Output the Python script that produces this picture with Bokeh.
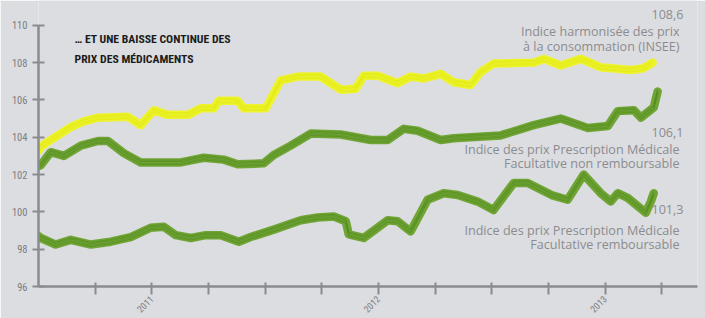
import math
from bokeh.plotting import figure
from bokeh.models import ColumnDataSource, FixedTicker, Label, Range1d
from bokeh.transform import dodge
from bokeh.embed import file_html
from bokeh.resources import INLINE

# ---- data (decimal years, index values) ----
ipch_t = [2010.501, 2010.510, 2010.554, 2010.642, 2010.700, 2010.762, 2010.894, 2010.951,
          2011.009, 2011.070, 2011.159, 2011.216, 2011.273, 2011.295, 2011.379, 2011.405,
          2011.503, 2011.569, 2011.644, 2011.745, 2011.834, 2011.900, 2011.935, 2011.997,
          2012.085, 2012.142, 2012.199, 2012.275, 2012.332, 2012.407, 2012.451, 2012.508,
          2012.685, 2012.730, 2012.804, 2012.893, 2012.981, 2013.113, 2013.170, 2013.210]
ipch_v = [103.3, 103.5, 103.85, 104.55, 104.85, 105.05, 105.1, 104.65,
          105.45, 105.2, 105.2, 105.55, 105.55, 105.95, 105.95, 105.55,
          105.55, 107.05, 107.25, 107.25, 106.55, 106.6, 107.3, 107.3,
          106.9, 107.25, 107.15, 107.4, 106.95, 106.8, 107.5, 107.95,
          108.0, 108.2, 107.85, 108.2, 107.75, 107.6, 107.7, 108.0]

pmf_nr_t = [2010.501, 2010.510, 2010.554, 2010.612, 2010.687, 2010.762, 2010.806, 2010.876,
            2010.951, 2011.128, 2011.229, 2011.317, 2011.379, 2011.494, 2011.538, 2011.613,
            2011.701, 2011.834, 2011.966, 2012.041, 2012.112, 2012.173, 2012.275, 2012.332,
            2012.407, 2012.539, 2012.685, 2012.804, 2012.924, 2013.012, 2013.056, 2013.127,
            2013.158, 2013.189, 2013.215, 2013.232]
pmf_nr_v = [102.45, 102.5, 103.2, 103.0, 103.55, 103.8, 103.8, 103.15,
            102.65, 102.65, 102.9, 102.8, 102.55, 102.6, 103.05, 103.55,
            104.2, 104.15, 103.85, 103.85, 104.45, 104.35, 103.85, 103.95,
            104.0, 104.1, 104.65, 105.0, 104.5, 104.6, 105.4, 105.45,
            105.05, 105.35, 105.6, 106.45]

pmf_r_t = [2010.501, 2010.510, 2010.576, 2010.642, 2010.731, 2010.819, 2010.907, 2010.995,
           2011.053, 2011.106, 2011.172, 2011.238, 2011.304, 2011.384, 2011.436, 2011.538,
           2011.657, 2011.732, 2011.803, 2011.856, 2011.869, 2011.935, 2012.041, 2012.085,
           2012.142, 2012.217, 2012.288, 2012.350, 2012.438, 2012.508, 2012.597, 2012.659,
           2012.764, 2012.835, 2012.906, 2012.981, 2013.025, 2013.056, 2013.100, 2013.180,
           2013.202, 2013.215]
pmf_r_v = [98.7, 98.6, 98.25, 98.5, 98.25, 98.4, 98.65, 99.15,
           99.2, 98.75, 98.6, 98.75, 98.75, 98.4, 98.65, 99.05,
           99.55, 99.7, 99.75, 99.5, 98.8, 98.6, 99.55, 99.5,
           98.95, 100.65, 101.0, 100.9, 100.55, 100.1, 101.55, 101.55,
           100.9, 100.65, 102.0, 101.0, 100.55, 101.0, 100.75, 99.95,
           100.55, 101.0]

y_ticks = [96, 98, 100, 102, 104, 106, 108, 110]
x_ticks = [2010.75, 2011.0, 2011.25, 2011.5, 2011.75, 2012.0, 2012.25, 2012.5, 2012.75, 2013.0, 2013.25]
year_labels = {2011.0: "2011", 2012.0: "2012", 2013.0: "2013"}

BG = "#dcdde0"
GREY = "#8a8b8e"
COND = "'Roboto Condensed', 'DejaVu Sans Condensed', 'Liberation Sans Narrow', Roboto, sans-serif"

p = figure(width=705, height=318, output_backend="svg", toolbar_location=None,
           x_range=Range1d(2010.5, 2013.408), y_range=Range1d(96, 111.33),
           min_border_left=38, min_border_right=8, min_border_top=0, min_border_bottom=31)
p.background_fill_color = BG
p.border_fill_color = BG
p.outline_line_color = None
p.grid.visible = False

# axes
for ax in (p.xaxis[0], p.yaxis[0]):
    ax.axis_line_color = GREY
    ax.axis_line_width = 2.5
    ax.major_tick_line_color = GREY
    ax.major_tick_line_width = 2
    ax.minor_tick_line_color = None
p.yaxis.ticker = FixedTicker(ticks=y_ticks)
p.yaxis.bounds = (96, 110)
p.yaxis.major_tick_in = 6
p.yaxis.major_tick_out = 6
p.yaxis.major_label_text_font = COND
p.yaxis.major_label_text_font_size = "10.5px"
p.yaxis.major_label_text_color = "#7d7e80"
p.yaxis.major_label_standoff = 5
p.xaxis.ticker = FixedTicker(ticks=x_ticks)
p.xaxis.major_tick_in = 4
p.xaxis.major_tick_out = 8
p.xaxis.major_label_overrides = {t: year_labels.get(t, "") for t in x_ticks}
p.xaxis.major_label_orientation = math.pi / 4
p.xaxis.major_label_text_font = COND
p.xaxis.major_label_text_font_size = "9.5px"
p.xaxis.major_label_text_color = "#7d7e80"
p.xaxis.major_label_standoff = 3

def sketch(t, v, color, dark, width):
    src = ColumnDataSource(dict(t=t, v=v))
    p.line("t", "v", source=src, line_color=color, line_width=width, line_alpha=0.9,
           line_join="round", line_cap="round")
    for off, a in ((-0.11, 0.55), (-0.04, 0.35), (0.05, 0.45), (0.12, 0.55)):
        p.line("t", dodge("v", off), source=src, line_color=dark, line_width=1,
               line_alpha=a, line_join="round")

sketch(ipch_t, ipch_v, "#eef51c", "#dde600", 8.5)
sketch(pmf_nr_t, pmf_nr_v, "#649e24", "#4a8516", 8.5)
sketch(pmf_r_t, pmf_r_v, "#649e24", "#4a8516", 8.5)

# title (screen units are relative to the plot frame: x from left, y from bottom)
for i, line in enumerate(["… ET UNE BAISSE CONTINUE DES", "PRIX DES MÉDICAMENTS"]):
    p.add_layout(Label(x=36, y=248 - 20 * i, x_units="screen", y_units="screen", text=line,
                       text_font=COND, text_font_style="bold",
                       text_font_size="11.7px", text_color="#1b1b1b",
                       text_baseline="middle", text_align="left"))

# annotations: (text, right edge in page px, centre y in page px)
annots = [
    ("108,6", 683, 15),
    ("Indice harmonisée des prix", 679, 31.5),
    ("à la consommation (INSEE)", 679, 46.5),
    ("106,1", 683, 133),
    ("Indice des prix Prescription Médicale", 679, 150),
    ("Facultative non remboursable", 679, 164),
    ("101,3", 683, 210),
    ("Indice des prix Prescription Médicale", 679, 231),
    ("Facultative remboursable", 679, 245),
]
for txt, xr, yref in annots:
    p.add_layout(Label(x=xr - 38, y=287 - yref, x_units="screen", y_units="screen", text=txt,
                       text_font="Open Sans", text_font_size="12.6px", text_color="#8b8c8f",
                       text_align="right", text_baseline="middle"))

open("out.html", "w").write(file_html(p, INLINE))
